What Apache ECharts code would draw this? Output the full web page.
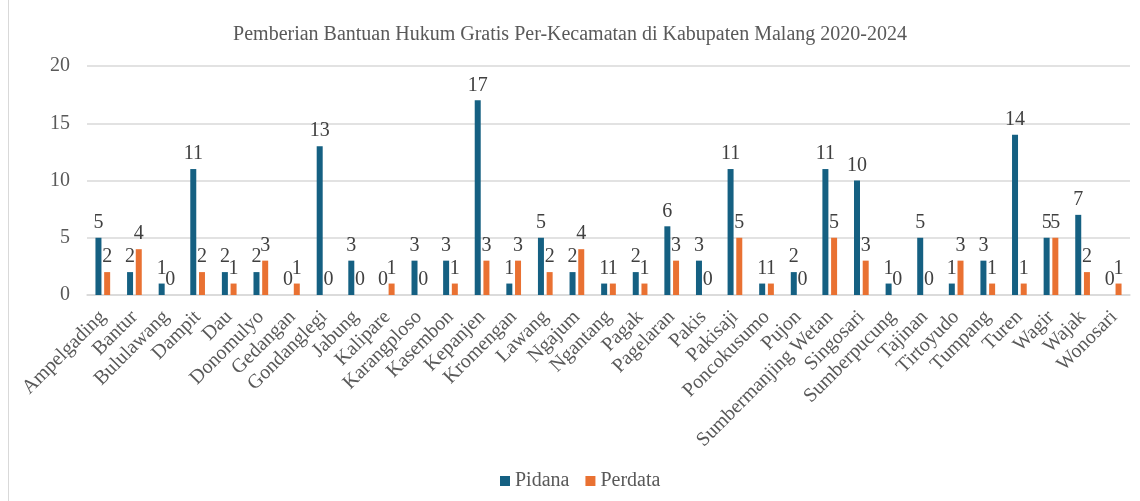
<!DOCTYPE html>
<html><head><meta charset="utf-8">
<script src="https://cdn.jsdelivr.net/npm/echarts@6/dist/echarts.min.js"></script>
<style>html,body{margin:0;padding:0;background:#fff}#c{width:1140px;height:501px}</style>
</head><body><div id="c"></div>
<script>
const categories = ["Ampelgading","Bantur","Bululawang","Dampit","Dau","Donomulyo","Gedangan","Gondanglegi","Jabung","Kalipare","Karangploso","Kasembon","Kepanjen","Kromengan","Lawang","Ngajum","Ngantang","Pagak","Pagelaran","Pakis","Pakisaji","Poncokusumo","Pujon","Sumbermanjing Wetan","Singosari","Sumberpucung","Tajinan","Tirtoyudo","Tumpang","Turen","Wagir","Wajak","Wonosari"];
const pidana = [5,2,1,11,2,2,0,13,3,0,3,3,17,1,5,2,1,2,6,3,11,1,2,11,10,1,5,1,3,14,5,7,0];
const perdata = [2,4,0,2,1,3,1,0,0,1,0,1,3,3,2,4,1,1,3,0,5,1,0,5,3,0,0,3,1,1,5,2,1];
const titleText = "Pemberian Bantuan Hukum Gratis Per-Kecamatan di Kabupaten Malang 2020-2024";

const font = "'Liberation Serif','Times New Roman',serif";
const chart = echarts.init(document.getElementById('c'));
const lbl = {show:true, position:'top', distance:5, color:'#404040', fontFamily:font, fontSize:20};
chart.setOption({
  animation:false,
  title:{text:titleText, left:'center', top:20, textStyle:{fontFamily:font, fontSize:20, fontWeight:'normal', color:'#595959'}},
  graphic:[{type:'rect', shape:{x:8.5,y:-2,width:1140,height:504}, style:{fill:'none', stroke:'#d9d9d9', lineWidth:1}}],
  legend:{bottom:5, left:495, itemWidth:10, itemHeight:10, itemGap:16, icon:'rect',
    textStyle:{fontFamily:font, fontSize:20, color:'#595959'}},
  grid:{left:87, right:10, top:66, bottom:206},
  xAxis:{type:'category', data:categories,
    axisLine:{lineStyle:{color:'#d9d9d9', width:1.5}}, axisTick:{show:false},
    axisLabel:{interval:0, rotate:45, fontFamily:font, fontSize:20, color:'#595959', margin:19}},
  yAxis:{type:'value', min:0, max:20, interval:5,
    axisLabel:{fontFamily:font, fontSize:20, color:'#595959', margin:17},
    splitLine:{lineStyle:{color:'#d9d9d9', width:1.5}}},
  series:[
    {name:'Pidana', type:'bar', data:pidana, barWidth:6, barGap:'45%', itemStyle:{color:'#156082'}, label:lbl},
    {name:'Perdata', type:'bar', data:perdata, barWidth:6, itemStyle:{color:'#E97132'}, label:lbl}
  ]
});
</script></body></html>
